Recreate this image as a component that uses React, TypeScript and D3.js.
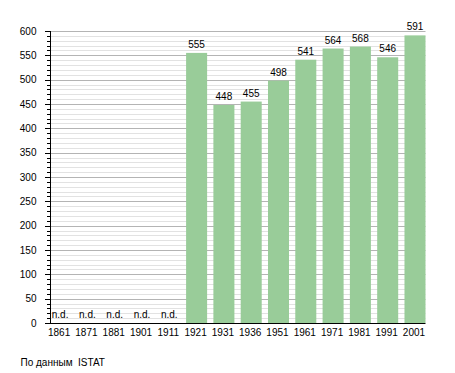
import { useEffect, useRef } from "react"
import * as d3 from "d3"

const years = ["1861", "1871", "1881", "1901", "1911", "1921", "1931", "1936", "1951", "1961", "1971", "1981", "1991", "2001"]
const population: (number | null)[] = [null, null, null, null, null, 555, 448, 455, 498, 541, 564, 568, 546, 591]
const majorTicks = [0, 50, 100, 150, 200, 250, 300, 350, 400, 450, 500, 550, 600]
const source = "По данным  ISTAT"

const App = () => {
  const svgRef = useRef<SVGSVGElement | null>(null)

  useEffect(() => {
    const width = 455
    const height = 373
    const margin = { top: 31, right: 29.5, bottom: 50, left: 49.6 }
    const font = "'Liberation Sans', Arial, sans-serif"

    const svg = d3.select(svgRef.current).attr("width", width).attr("height", height)
    svg.selectAll("*").remove()

    const x = d3
      .scaleBand()
      .domain(years)
      .range([margin.left, width - margin.right])
      .paddingInner(0.23)
      .paddingOuter(0)

    const y = d3
      .scaleLinear()
      .domain([0, 600])
      .range([height - margin.bottom, margin.top])

    const x0 = 50
    const x1 = width - margin.right

    // minor grid every 10
    const minor = d3.range(10, 600, 10).filter((v) => v % 50 !== 0)
    svg
      .append("g")
      .selectAll("line")
      .data(minor)
      .enter()
      .append("line")
      .attr("x1", x0)
      .attr("x2", x1)
      .attr("y1", (d) => Math.round(y(d)) + 0.5)
      .attr("y2", (d) => Math.round(y(d)) + 0.5)
      .attr("stroke", "#e2e2e2")

    // major grid every 50
    svg
      .append("g")
      .selectAll("line")
      .data(majorTicks.filter((d) => d > 0))
      .enter()
      .append("line")
      .attr("x1", x0)
      .attr("x2", x1)
      .attr("y1", (d) => Math.round(y(d)) + 0.5)
      .attr("y2", (d) => Math.round(y(d)) + 0.5)
      .attr("stroke", "#b4b4b4")

    // bars
    const data = years.map((yr, i) => ({ year: yr, value: population[i] }))
    svg
      .append("g")
      .selectAll("rect")
      .data(data.filter((d) => d.value !== null))
      .enter()
      .append("rect")
      .attr("x", (d) => x(d.year)!)
      .attr("y", (d) => y(d.value as number))
      .attr("width", x.bandwidth())
      .attr("height", (d) => y(0) - y(d.value as number))
      .attr("fill", "#99cc99")

    // value labels
    svg
      .append("g")
      .selectAll("text")
      .data(data)
      .enter()
      .append("text")
      .attr("x", (d) => x(d.year)! + x.bandwidth() / 2)
      .attr("y", (d) => (d.value === null ? y(0) - 5 : y(d.value) - 5))
      .attr("text-anchor", "middle")
      .attr("font-family", font)
      .attr("font-size", 10)
      .attr("fill", "#000")
      .text((d) => (d.value === null ? "n.d." : String(d.value)))

    // axes lines
    const yBase = Math.round(y(0)) + 0.5
    svg
      .append("line")
      .attr("x1", x0 + 0.5)
      .attr("x2", x0 + 0.5)
      .attr("y1", y(600))
      .attr("y2", yBase)
      .attr("stroke", "#000")
    svg
      .append("line")
      .attr("x1", x0)
      .attr("x2", x1)
      .attr("y1", yBase)
      .attr("y2", yBase)
      .attr("stroke", "#000")

    // minor ticks
    svg
      .append("g")
      .selectAll("line")
      .data(minor)
      .enter()
      .append("line")
      .attr("x1", x0 - 3)
      .attr("x2", x0)
      .attr("y1", (d) => Math.round(y(d)) + 0.5)
      .attr("y2", (d) => Math.round(y(d)) + 0.5)
      .attr("stroke", "#000")

    // major ticks + labels
    const yt = svg.append("g")
    yt.selectAll("line")
      .data(majorTicks)
      .enter()
      .append("line")
      .attr("x1", x0 - 5)
      .attr("x2", x0)
      .attr("y1", (d) => Math.round(y(d)) + 0.5)
      .attr("y2", (d) => Math.round(y(d)) + 0.5)
      .attr("stroke", "#000")
    yt.selectAll("text")
      .data(majorTicks)
      .enter()
      .append("text")
      .attr("x", 36.5)
      .attr("y", (d) => y(d) + 3.5)
      .attr("text-anchor", "end")
      .attr("font-family", font)
      .attr("font-size", 10)
      .text((d) => d)

    // x labels
    svg
      .append("g")
      .selectAll("text")
      .data(years)
      .enter()
      .append("text")
      .attr("x", (d) => x(d)! + x.bandwidth() / 2 - 1)
      .attr("y", yBase + 12.5)
      .attr("text-anchor", "middle")
      .attr("font-family", font)
      .attr("font-size", 10)
      .text((d) => d)

    svg
      .append("text")
      .attr("x", 20.5)
      .attr("y", 366)
      .attr("font-family", font)
      .attr("font-size", 10)
      .style("white-space", "pre")
      .text(source)
  }, [])

  return (
    <div style={{ position: "absolute", left: 0, top: 0, background: "#fff" }}>
      <svg ref={svgRef}></svg>
    </div>
  )
}

export default App
